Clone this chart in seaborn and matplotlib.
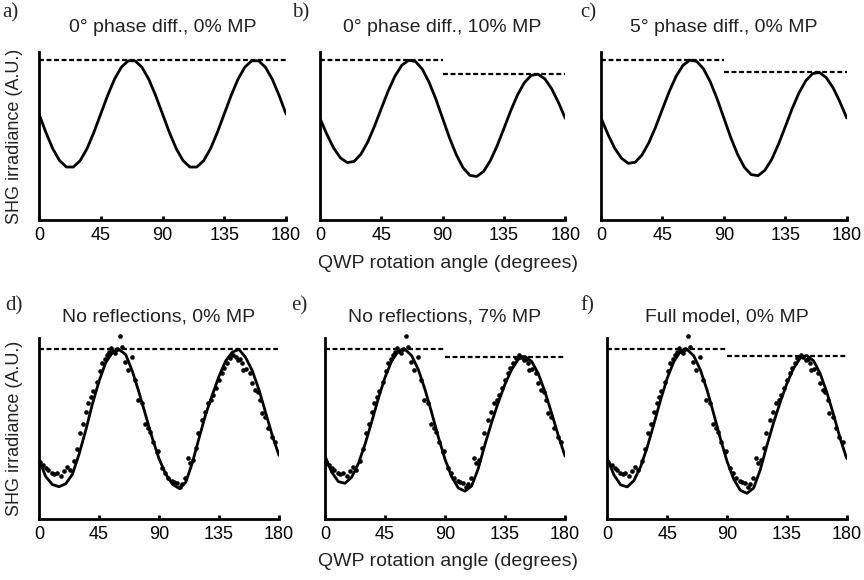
import matplotlib
matplotlib.use("Agg")
import matplotlib.pyplot as plt
import pandas as pd
import seaborn as sns

# ---------------- data ----------------
angles = [0, 5, 10, 15, 20, 25, 30, 35, 40, 45, 50, 55, 60, 65, 70, 75, 80, 85, 90,
          95, 100, 105, 110, 115, 120, 125, 130, 135, 140, 145, 150, 155, 160, 165, 170, 175, 180]

curve_a = [0.663, 0.548, 0.446, 0.371, 0.331, 0.331, 0.371, 0.446, 0.548, 0.663, 0.778, 0.880,
           0.955, 0.995, 0.995, 0.955, 0.880, 0.778, 0.663, 0.548, 0.446, 0.371, 0.331, 0.331,
           0.371, 0.446, 0.548, 0.663, 0.778, 0.880, 0.955, 0.995, 0.995, 0.955, 0.880, 0.778, 0.663]
curve_b = [0.635, 0.536, 0.450, 0.388, 0.359, 0.366, 0.411, 0.487, 0.586, 0.697, 0.806, 0.899,
           0.967, 0.998, 0.991, 0.944, 0.862, 0.756, 0.635, 0.514, 0.408, 0.326, 0.279, 0.272,
           0.303, 0.371, 0.464, 0.573, 0.684, 0.783, 0.859, 0.904, 0.911, 0.882, 0.820, 0.734, 0.635]
curve_c = [0.638, 0.537, 0.449, 0.386, 0.354, 0.361, 0.406, 0.482, 0.581, 0.693, 0.803, 0.898,
           0.966, 0.999, 0.992, 0.946, 0.865, 0.759, 0.638, 0.517, 0.411, 0.330, 0.284, 0.277,
           0.310, 0.378, 0.473, 0.583, 0.695, 0.794, 0.870, 0.915, 0.922, 0.890, 0.827, 0.739, 0.638]
curve_d = [0.350, 0.250, 0.203, 0.190, 0.207, 0.262, 0.380, 0.520, 0.675, 0.810, 0.920, 0.978,
           0.997, 0.968, 0.870, 0.745, 0.610, 0.475, 0.355, 0.265, 0.205, 0.180, 0.215, 0.330,
           0.475, 0.615, 0.730, 0.840, 0.930, 0.982, 0.998, 0.950, 0.872, 0.760, 0.625, 0.490, 0.375]
curve_e = [0.370, 0.276, 0.220, 0.210, 0.246, 0.326, 0.439, 0.571, 0.709, 0.833, 0.930, 0.988,
           0.998, 0.961, 0.879, 0.762, 0.626, 0.482, 0.352, 0.248, 0.182, 0.164, 0.194, 0.298,
           0.439, 0.569, 0.687, 0.793, 0.880, 0.940, 0.956, 0.927, 0.855, 0.748, 0.622, 0.490, 0.370]
curve_f = [0.356, 0.259, 0.201, 0.189, 0.226, 0.307, 0.422, 0.558, 0.699, 0.827, 0.926, 0.986,
           0.998, 0.960, 0.877, 0.759, 0.619, 0.474, 0.340, 0.235, 0.169, 0.151, 0.182, 0.289,
           0.432, 0.566, 0.687, 0.797, 0.886, 0.946, 0.962, 0.932, 0.857, 0.747, 0.617, 0.476, 0.356]

meas_angle = [0.8, 3.2, 5.5, 7.0, 9.5, 11.5, 13.3, 16.5, 18.5, 20.8, 23.0, 26.2, 28.2, 30.7, 33.2,
              35.2, 37.0, 38.7, 40.7, 43.2, 45.7, 47.5, 49.2, 50.7, 52.7, 54.0, 55.5, 57.0, 58.5,
              60.8, 62.5, 64.5, 67.0, 69.5, 72.0, 74.5, 77.0, 79.5, 81.5, 83.3, 85.7, 88.3, 89.5,
              92.0, 94.5, 97.0, 99.5, 101.5, 103.3, 105.8, 107.5, 109.5, 112.0, 113.5, 115.7, 117.5,
              119.5, 122.0, 124.5, 127.0, 129.0, 130.7, 132.5, 135.0, 137.0, 139.0, 140.8, 143.0,
              145.7, 147.5, 149.5, 151.0, 152.5, 153.2, 155.5, 158.3, 160.0, 162.0, 164.0, 165.8,
              167.0, 169.5, 172.0, 174.5, 177.0]
meas_value = [0.337, 0.318, 0.300, 0.290, 0.270, 0.262, 0.272, 0.253, 0.280, 0.308, 0.290, 0.340,
              0.410, 0.505, 0.560, 0.630, 0.680, 0.715, 0.755, 0.805, 0.870, 0.920, 0.940, 0.965,
              0.985, 1.008, 0.990, 0.978, 1.000, 1.078, 1.012, 0.925, 0.876, 0.955, 0.818, 0.700,
              0.684, 0.559, 0.535, 0.510, 0.455, 0.396, 0.400, 0.298, 0.270, 0.240, 0.225, 0.215,
              0.210, 0.190, 0.205, 0.239, 0.357, 0.330, 0.345, 0.420, 0.504, 0.582, 0.631, 0.680,
              0.700, 0.729, 0.769, 0.820, 0.857, 0.890, 0.916, 0.950, 0.965, 0.955, 0.935, 0.940,
              0.916, 0.876, 0.880, 0.857, 0.800, 0.759, 0.745, 0.700, 0.622, 0.600, 0.533, 0.484,
              0.455]

# dashed reference levels per panel: (start angle, end angle, level)
dash_a = [(0, 180, 1.0)]
dash_b = [(0, 90, 1.0), (90, 180, 0.9125)]
dash_c = [(0, 90, 1.0), (90, 180, 0.923)]
dash_d = [(0, 180, 1.0)]
dash_e = [(0, 90, 1.0), (90, 180, 0.956)]
dash_f = [(0, 90, 1.0), (90, 180, 0.962)]

titles = ["0° phase diff., 0% MP", "0° phase diff., 10% MP", "5° phase diff., 0% MP",
          "No reflections, 0% MP", "No reflections, 7% MP", "Full model, 0% MP"]
letters = ["a)", "b)", "c)", "d)", "e)", "f)"]
xticks = [0, 45, 90, 135, 180]
xlabel = "QWP rotation angle (degrees)"
ylabel = "SHG irradiance (A.U.)"

# ---------------- style ----------------
sns.set_style("ticks")
plt.rcParams["font.family"] = ["Liberation Sans", "DejaVu Sans"]

W, H = 864, 580
fig = plt.figure(figsize=(W / 100, H / 100), dpi=100)

# panel geometry in pixels: left, right, bottom, top
geom = [
    (39, 286, 220, 52), (320, 565.3, 220, 52), (601, 846.7, 220, 52),
    (39, 279, 519, 338), (325, 565, 519, 338), (607.3, 846.7, 519, 338),
]
ytops = [1.05, 1.05, 1.05, 1.065, 1.065, 1.065]
curves = [curve_a, curve_b, curve_c, curve_d, curve_e, curve_f]
dashes = [dash_a, dash_b, dash_c, dash_d, dash_e, dash_f]
title_pads = [14.5, 14.5, 14.5, 11.7, 11.7, 11.7]
letter_pos = [(2, 13), (292, 13), (580, 13), (5, 306), (291, 306), (580, 306)]

for i in range(6):
    l, r, b, t = geom[i]
    ax = fig.add_axes([l / W, 1 - b / H, (r - l) / W, (b - t) / H])
    df = pd.DataFrame({"angle": angles, "value": curves[i]})
    sns.lineplot(data=df, x="angle", y="value", ax=ax, color="black", lw=2.0,
                 estimator=None, sort=False, zorder=3)
    if i >= 3:
        dm = pd.DataFrame({"angle": meas_angle, "value": meas_value})
        sns.scatterplot(data=dm, x="angle", y="value", ax=ax, color="black", s=11,
                        linewidth=0, clip_on=False, zorder=4)
    for (x0, x1, lev) in dashes[i]:
        ax.hlines(lev, x0, x1, colors="black", linewidth=1.6,
                  linestyles=(0, (2.2, 1.2)), zorder=2)
    ax.set_xlim(0, 180)
    ax.set_ylim(0, ytops[i])
    ax.set_xticks(xticks)
    ax.set_xticklabels([str(v) for v in xticks])
    ax.set_yticks([])
    ax.set_xlabel("")
    ax.set_ylabel("")
    sns.despine(ax=ax)
    for s in ("left", "bottom"):
        ax.spines[s].set_linewidth(2.0)
        ax.spines[s].set_color("black")
    ax.tick_params(axis="x", direction="in", length=3, width=2, labelsize=13,
                   pad=5, colors="black")
    ax.set_title(titles[i], fontsize=14, pad=title_pads[i], color="#222222")
    lx, ly = letter_pos[i]
    fig.text(lx / W, 1 - ly / H, letters[i], ha="left", va="center",
             fontsize=15, family=["Liberation Serif", "DejaVu Serif"])

# shared axis labels
fig.text(15 / W, 1 - 136 / H, ylabel, rotation=90, ha="center", va="center",
         fontsize=13, color="#222222")
fig.text(15 / W, 1 - 428.5 / H, ylabel, rotation=90, ha="center", va="center",
         fontsize=13, color="#222222")
fig.text(448 / W, 1 - 263 / H, xlabel, ha="center", va="center", fontsize=14,
         color="#222222")
fig.text(448 / W, 1 - 562 / H, xlabel, ha="center", va="center", fontsize=14,
         color="#222222")

fig.savefig("out.png", dpi=100)
